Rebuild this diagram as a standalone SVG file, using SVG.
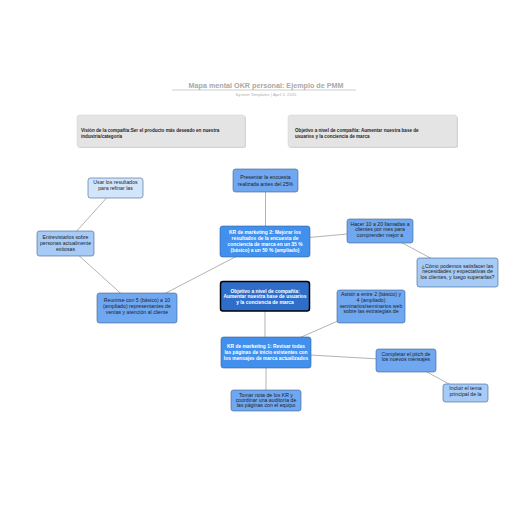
<svg xmlns="http://www.w3.org/2000/svg" width="516" height="516" viewBox="0 0 516 516">
<style>
text{font-family:"Liberation Sans",Arial,sans-serif;text-anchor:middle;fill:#1e1e1e;font-size:5.2px}
.t{font-size:7.2px;font-weight:bold;fill:#a8a8a8}
.st{font-size:4.2px;fill:#b0b0b0}
.hd{text-anchor:start;font-size:4.6px;font-weight:bold;fill:#262626}
.w{fill:#fff;font-weight:bold;font-size:4.9px}
.n rect{stroke:#3d5f8f;stroke-width:0.6}
.l1 rect{fill:#d3e5fb}
.l2 rect{fill:#a6cbf6}
.m rect{fill:#6fa8f1}
.kr rect{fill:#4190ee}
.c rect{fill:#2f6ec8;stroke:#000;stroke-width:1.5}
.hb{fill:#e4e4e4;stroke:#d2d2d2;stroke-width:0.5}
#connectors line{stroke:#7f7f7f;stroke-width:0.6}
</style>
<rect width="516" height="516" fill="#fff"/>
<g id="title">
<text class="t" x="266" y="88">Mapa mental OKR personal: Ejemplo de PMM</text>
<line x1="172" y1="90" x2="356" y2="90" stroke="#b8b8b8" stroke-width="0.7"/>
<text class="st" x="266" y="96">System Templates  |  April 2, 2015</text>
</g>
<g id="vision">
<rect x="78" y="116" width="168" height="32" rx="2.5" fill="#d4d4d4"/>
<rect class="hb" x="77" y="115" width="168" height="32" rx="2.5"/>
<text class="hd" x="81" y="131.5">Visión de la compañía:Ser el producto más deseado en nuestra</text>
<text class="hd" x="81" y="137.5">industria/categoría</text>
</g>
<g id="objective-header">
<rect x="289" y="116" width="169" height="32" rx="2.5" fill="#d4d4d4"/>
<rect class="hb" x="288" y="115" width="169" height="32" rx="2.5"/>
<text class="hd" x="295" y="132">Objetivo a nivel de compañía: Aumentar nuestra base de</text>
<text class="hd" x="295" y="138">usuarios y la conciencia de marca</text>
</g>
<g id="connectors">
<line x1="115.5" y1="188" x2="65.5" y2="243.5"/>
<line x1="65.5" y1="243.5" x2="137" y2="308"/>
<line x1="265" y1="241.5" x2="137" y2="308"/>
<line x1="265.5" y1="180" x2="265.5" y2="241"/>
<line x1="265" y1="241.5" x2="380" y2="231"/>
<line x1="380" y1="231" x2="457.5" y2="272.5"/>
<line x1="265" y1="296" x2="265" y2="352"/>
<line x1="266" y1="352.5" x2="371" y2="306.5"/>
<line x1="266" y1="352.5" x2="406" y2="360.5"/>
<line x1="406" y1="360.5" x2="465.5" y2="393"/>
<line x1="266" y1="352.5" x2="266" y2="400.5"/>
</g>
<g id="usar" class="n l1">
<rect x="88" y="178" width="55" height="20" rx="2.5"/>
<text x="115.5" y="183.5">Usar los resultados</text>
<text x="115.5" y="189.5">para refinar las</text>
</g>
<g id="presentar" class="n m">
<rect x="233" y="169" width="65" height="23" rx="2.5"/>
<text x="265.5" y="179">Presentar la encuesta</text>
<text x="265.5" y="185.5">realizada antes del 25%</text>
</g>
<g id="kr2" class="n kr">
<rect x="220" y="226" width="90" height="31" rx="2.5"/>
<text class="w" x="265" y="234">KR de marketing 2: Mejorar los</text>
<text class="w" x="265" y="240">resultados de la encuesta de</text>
<text class="w" x="265" y="246">conciencia de marca en un 35 %</text>
<text class="w" x="265" y="252">(básico) a un 50 % (ampliado)</text>
</g>
<g id="entrevistarlos" class="n l2">
<rect x="37" y="231" width="57" height="25" rx="2.5"/>
<text x="65.5" y="238.5">Entrevistarlos sobre</text>
<text x="65.5" y="244.5">personas actualmente</text>
<text x="65.5" y="250.5">exitosas</text>
</g>
<g id="hacer" class="n m">
<rect x="347" y="219" width="66" height="24" rx="2.5"/>
<text x="380" y="225.5">Hacer 10 a 20 llamadas a</text>
<text x="380" y="231">clientes por mes para</text>
<text x="380" y="236.5">comprender mejor a</text>
</g>
<g id="como" class="n l2">
<rect x="417" y="258" width="81" height="29" rx="2.5"/>
<text x="457.5" y="267.5">¿Cómo podemos satisfacer las</text>
<text x="457.5" y="273.3">necesidades y expectativas de</text>
<text x="457.5" y="279">los clientes, y luego superarlas?</text>
</g>
<g id="central" class="n c">
<rect x="220.5" y="281.5" width="89" height="29.5" rx="2.5"/>
<text class="w" x="265" y="292.5">Objetivo a nivel de compañía:</text>
<text class="w" x="265" y="298.3">Aumentar nuestra base de usuarios</text>
<text class="w" x="265" y="304">y la conciencia de marca</text>
</g>
<g id="reunirse" class="n m">
<rect x="97" y="293" width="80" height="30" rx="2.5"/>
<text x="137" y="302.3">Reunirse con 5 (básico) a 10</text>
<text x="137" y="308">(ampliado) representantes de</text>
<text x="137" y="313.5">ventas y atención al cliente</text>
</g>
<g id="asistir" class="n m">
<rect x="337" y="290" width="68" height="33" rx="2.5"/>
<text x="371" y="296">Asistir a entre 2 (básico) y</text>
<text x="371" y="301.8">4 (ampliado)</text>
<text x="371" y="307.6">seminarios/seminarios web</text>
<text x="371" y="313.4">sobre las estrategias de</text>
</g>
<g id="kr1" class="n kr">
<rect x="221" y="337" width="90" height="31" rx="2.5"/>
<text class="w" x="266" y="348.3">KR de marketing 1: Revisar todas</text>
<text class="w" x="266" y="354">las páginas de inicio existentes con</text>
<text class="w" x="266" y="360">los mensajes de marca actualizados</text>
</g>
<g id="completar" class="n m">
<rect x="376" y="349" width="60" height="23" rx="2.5"/>
<text x="406" y="355.5">Completar el pitch de</text>
<text x="406" y="361.2">los nuevos mensajes</text>
</g>
<g id="incluir" class="n l2">
<rect x="443" y="384" width="45" height="18" rx="2.5"/>
<text x="465.5" y="390">Incluir el tema</text>
<text x="465.5" y="395.5">principal de la</text>
</g>
<g id="tomar" class="n m">
<rect x="231" y="390" width="70" height="21" rx="2.5"/>
<text x="266" y="396.5">Tomar nota de los KR y</text>
<text x="266" y="401.8">coordinar una auditoría de</text>
<text x="266" y="407.2">las páginas con el equipo</text>
</g>
</svg>
